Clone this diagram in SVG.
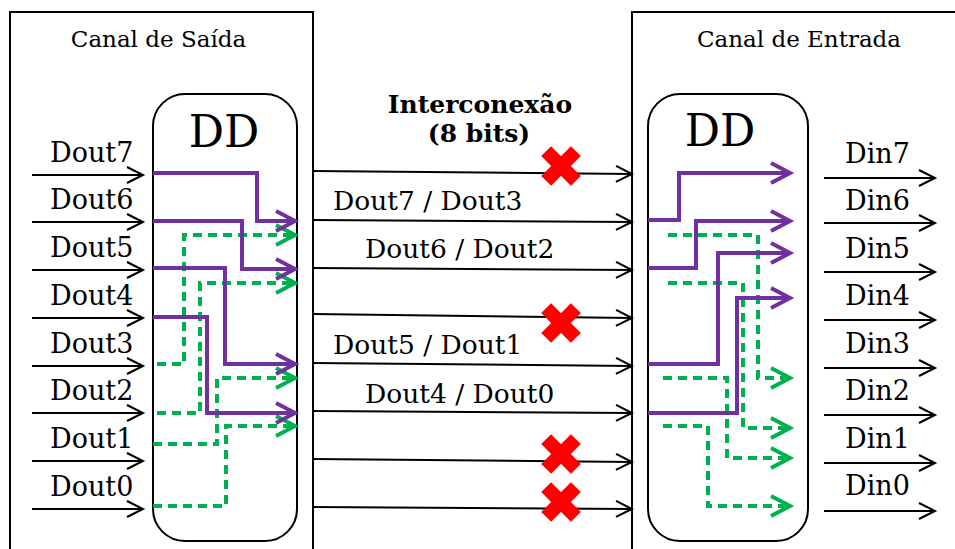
<svg xmlns="http://www.w3.org/2000/svg" width="955" height="549" viewBox="0 0 955 549">
<style>
.txt{font-family:"DejaVu Serif","Liberation Serif",serif;fill:#000}
.box{fill:none;stroke:#000;stroke-width:2}
.dd{fill:#fff;stroke:#000;stroke-width:2}
.wire{fill:none;stroke:#000;stroke-width:2;marker-end:url(#ah)}
.pur{fill:none;stroke:#7030A0;stroke-width:4;stroke-linejoin:miter;marker-end:url(#ahp)}
.grn{fill:none;stroke:#00B050;stroke-width:4;stroke-dasharray:9 6;stroke-linejoin:miter;marker-end:url(#ahg)}
</style>
<defs>
<marker id="ah" markerUnits="userSpaceOnUse" markerWidth="40" markerHeight="40" refX="0" refY="0" orient="auto" overflow="visible">
<path d="M-16,-8 L0,0 L-16,8" fill="none" stroke="#000" stroke-width="2"/>
</marker>
<marker id="ahp" markerUnits="userSpaceOnUse" markerWidth="40" markerHeight="40" refX="0" refY="0" orient="auto" overflow="visible">
<path d="M-19,-10 L0,0 L-19,10" fill="none" stroke="#7030A0" stroke-width="4"/>
</marker>
<marker id="ahg" markerUnits="userSpaceOnUse" markerWidth="40" markerHeight="40" refX="0" refY="0" orient="auto" overflow="visible">
<path d="M-19,-10 L0,0 L-19,10" fill="none" stroke="#00B050" stroke-width="4"/>
</marker>
<g id="xmark" fill="#FF0000">
<rect x="-21" y="-7" width="42" height="14" transform="rotate(45)"/>
<rect x="-21" y="-7" width="42" height="14" transform="rotate(-45)"/>
</g>
</defs>
<rect width="955" height="549" fill="#fff"/>

<g id="canal-saida">
<path class="box" d="M10,560 V12 H313 V560"/>
<text class="txt" x="158.5" y="47" font-size="23" text-anchor="middle">Canal de Saída</text>
</g>
<g id="canal-entrada">
<path class="box" d="M632,560 V12 H960"/>
<text class="txt" x="799" y="47" font-size="23" text-anchor="middle">Canal de Entrada</text>
</g>

<g id="dd-saida">
<rect class="dd" x="153" y="94" width="144" height="447" rx="32" ry="32"/>
<text class="txt" x="224" y="147" font-size="44" text-anchor="middle">DD</text>
</g>
<g id="dd-entrada">
<rect class="dd" x="648" y="94" width="160" height="447" rx="32" ry="32"/>
<text class="txt" x="720" y="146" font-size="44" text-anchor="middle">DD</text>
</g>

<g id="interconexao-label">
<text class="txt" x="480" y="113" font-size="25" font-weight="bold" text-anchor="middle">Interconexão</text>
<text class="txt" x="479" y="142" font-size="25" font-weight="bold" text-anchor="middle">(8 bits)</text>
</g>

<g id="dout-labels" class="txt" font-size="27">
<text x="50" y="162">Dout7</text>
<text x="50" y="209">Dout6</text>
<text x="50" y="257">Dout5</text>
<text x="50" y="305">Dout4</text>
<text x="50" y="353">Dout3</text>
<text x="50" y="400">Dout2</text>
<text x="50" y="448">Dout1</text>
<text x="50" y="496">Dout0</text>
</g>
<g id="din-labels" class="txt" font-size="27">
<text x="845" y="163">Din7</text>
<text x="845" y="210">Din6</text>
<text x="845" y="258">Din5</text>
<text x="845" y="305">Din4</text>
<text x="845" y="353">Din3</text>
<text x="845" y="400">Din2</text>
<text x="845" y="448">Din1</text>
<text x="845" y="495">Din0</text>
</g>
<g id="link-labels" class="txt" font-size="26.5">
<text x="333" y="210">Dout7 / Dout3</text>
<text x="365" y="258">Dout6 / Dout2</text>
<text x="333" y="354">Dout5 / Dout1</text>
<text x="365" y="403">Dout4 / Dout0</text>
</g>

<g id="connectors">
<path class="wire" d="M32,175 H143"/>
<path class="wire" d="M32,222 H143"/>
<path class="wire" d="M32,270 H143"/>
<path class="wire" d="M32,318 H143"/>
<path class="wire" d="M32,366 H143"/>
<path class="wire" d="M32,413 H143"/>
<path class="wire" d="M32,461 H143"/>
<path class="wire" d="M32,509 H143"/>

<path class="wire" d="M313,171 L632,174"/>
<path class="wire" d="M313,220 L632,222"/>
<path class="wire" d="M313,268 L632,270"/>
<path class="wire" d="M313,314 L632,318"/>
<path class="wire" d="M313,363 L632,366"/>
<path class="wire" d="M313,411 L632,413"/>
<path class="wire" d="M313,459 L632,462"/>
<path class="wire" d="M313,507 L632,509"/>

<path class="wire" d="M824,178 H935"/>
<path class="wire" d="M824,223 H935"/>
<path class="wire" d="M824,272 H935"/>
<path class="wire" d="M824,320 H935"/>
<path class="wire" d="M824,368 H935"/>
<path class="wire" d="M824,415 H935"/>
<path class="wire" d="M824,463 H935"/>
<path class="wire" d="M824,511 H935"/>

<path class="grn" d="M157,364 H184 V235 H295"/>
<path class="grn" d="M157,413 H200 V283 H295"/>
<path class="grn" d="M153,444 H217 V378 H295"/>
<path class="grn" d="M153,506 H226 V426 H295"/>
<path class="pur" d="M153,173 H257 V221 H295"/>
<path class="pur" d="M153,221 H242 V269 H295"/>
<path class="pur" d="M153,268 H225 V364 H295"/>
<path class="pur" d="M153,317 H207 V413 H295"/>

<path class="grn" d="M668,235 H758 V378 H790"/>
<path class="grn" d="M668,283 H743 V428 H790"/>
<path class="grn" d="M663,378 H727 V458 H790"/>
<path class="grn" d="M663,426 H708 V506 H790"/>
<path class="pur" d="M648,220 H679 V173 H790"/>
<path class="pur" d="M648,268 H696 V221 H790"/>
<path class="pur" d="M648,364 H718 V253 H790"/>
<path class="pur" d="M648,413 H737 V298 H790"/>
</g>

<g id="falhas">
<use href="#xmark" x="561" y="166"/>
<use href="#xmark" x="561" y="323"/>
<use href="#xmark" x="561" y="454"/>
<use href="#xmark" x="561" y="502"/>
</g>
</svg>
